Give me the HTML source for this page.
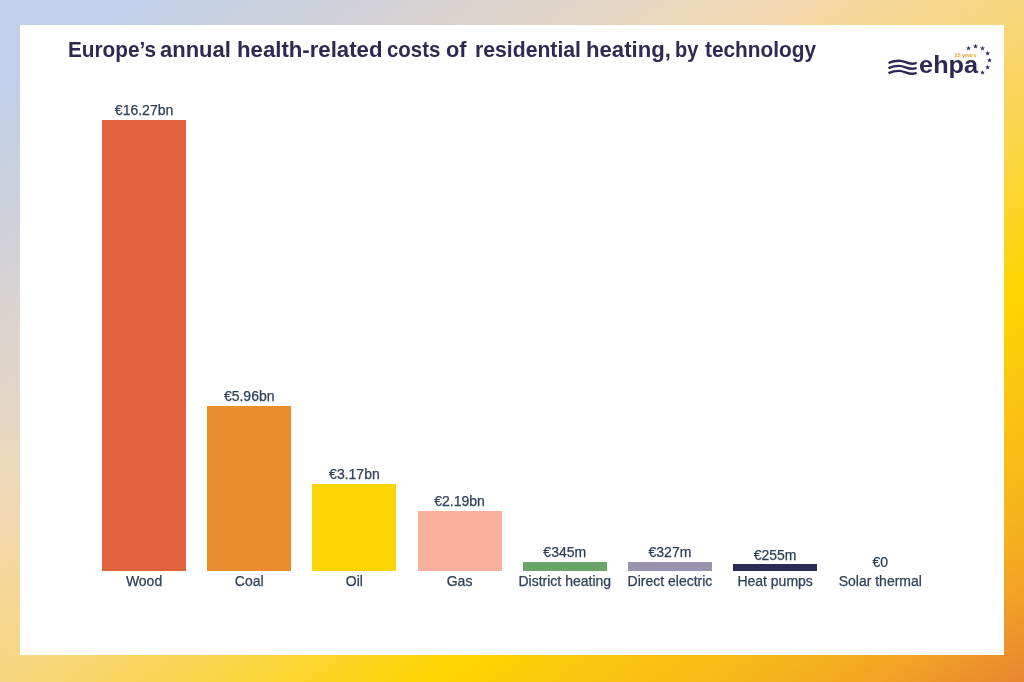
<!DOCTYPE html>
<html lang="en"><head><meta charset="utf-8"><title>Europe’s annual health-related costs of residential heating, by technology</title>
<style>
html,body{margin:0;padding:0}
body{width:1024px;height:682px;overflow:hidden;position:relative;font-family:"Liberation Sans",sans-serif;
background:linear-gradient(to bottom right,#bfcfe9 0%,#bfcfe9 7%,#cbd0dd 14%,#ddd4cc 26%,#f1d8b4 37.5%,#f4d794 44%,#f8d67f 50%,#f9d547 60%,#fed500 71%,#fac50f 78%,#f6b61b 86.6%,#f1a325 93%,#e98431 100%);}
.panel{position:absolute;left:20.3px;top:25.3px;width:983.4px;height:630.2px;background:#fff}
h1{position:absolute;left:0;top:37.9px;margin:0;width:1024px;height:24px;font-size:21.8px;line-height:24px;font-weight:bold;color:#2d2b52;white-space:nowrap}
h1 span{position:absolute;top:0;display:block;transform-origin:0 0}
.bar{position:absolute}
.val,.cat{position:absolute;width:120px;text-align:center;font-size:14px;line-height:16px;color:#2f4058;-webkit-text-stroke:0.25px #2f4058;white-space:nowrap}
svg{position:absolute;left:0;top:0}
</style></head><body>
<div class="panel"></div>
<h1><span style="left:68.05px;transform:scaleX(0.9528)">Europe’s</span> <span style="left:160.49px;transform:scaleX(1.0074)">annual</span> <span style="left:236.96px;transform:scaleX(1.0180)">health-related</span> <span style="left:387.06px;transform:scaleX(0.9364)">costs</span> <span style="left:446.00px;transform:scaleX(1.0000)">of</span> <span style="left:474.53px;transform:scaleX(0.9720)">residential</span> <span style="left:585.97px;transform:scaleX(1.0156)">heating,</span> <span style="left:675.33px;transform:scaleX(0.9167)">by</span> <span style="left:705.00px;transform:scaleX(0.9552)">technology</span></h1>
<div class="bar" style="left:102.00px;top:120.01px;width:84.10px;height:451.49px;background:#e2623d"></div>
<div class="val" style="left:84.05px;top:102px">€16.27bn</div>
<div class="cat" style="left:84.05px;top:573px">Wood</div>
<div class="bar" style="left:207.18px;top:406.11px;width:84.10px;height:165.39px;background:#e88c2e"></div>
<div class="val" style="left:189.23px;top:388px">€5.96bn</div>
<div class="cat" style="left:189.23px;top:573px">Coal</div>
<div class="bar" style="left:312.36px;top:483.53px;width:84.10px;height:87.97px;background:#fdd506"></div>
<div class="val" style="left:294.41px;top:466px">€3.17bn</div>
<div class="cat" style="left:294.41px;top:573px">Oil</div>
<div class="bar" style="left:417.54px;top:510.73px;width:84.10px;height:60.77px;background:#f8b09a"></div>
<div class="val" style="left:399.59px;top:493px">€2.19bn</div>
<div class="cat" style="left:399.59px;top:573px">Gas</div>
<div class="bar" style="left:522.72px;top:561.93px;width:84.10px;height:9.57px;background:#6aa66a"></div>
<div class="val" style="left:504.77px;top:544px">€345m</div>
<div class="cat" style="left:504.77px;top:573px">District heating</div>
<div class="bar" style="left:627.90px;top:562.43px;width:84.10px;height:9.07px;background:#9a94b0"></div>
<div class="val" style="left:609.95px;top:544px">€327m</div>
<div class="cat" style="left:609.95px;top:573px">Direct electric</div>
<div class="bar" style="left:733.08px;top:564.42px;width:84.10px;height:7.08px;background:#2c2a55"></div>
<div class="val" style="left:715.13px;top:547px">€255m</div>
<div class="cat" style="left:715.13px;top:573px">Heat pumps</div>
<div class="val" style="left:820.31px;top:554px">€0</div>
<div class="cat" style="left:820.31px;top:573px">Solar thermal</div>
<svg width="1024" height="682" viewBox="0 0 1024 682">
<g fill="none" stroke="#2c2a55" stroke-width="2.4">
<path d="M888.5,63.00 C892,61.40 895.5,60.80 899.2,60.80 C904,60.80 907,63.70 911.9,63.70 C913.5,63.70 915,63.30 916.6,62.80"/>
<path d="M888.5,68.05 C892,66.45 895.5,65.85 899.2,65.85 C904,65.85 907,68.75 911.9,68.75 C913.5,68.75 915,68.35 916.6,67.85"/>
<path d="M888.5,73.10 C892,71.50 895.5,70.90 899.2,70.90 C904,70.90 907,73.80 911.9,73.80 C913.5,73.80 915,73.40 916.6,72.90"/>
</g>
<text x="919.1" y="72.8" font-family="Liberation Sans, sans-serif" font-weight="bold" font-size="24.8" fill="#2c2a55" textLength="59" lengthAdjust="spacingAndGlyphs">ehpa</text>
<text x="954.4" y="56.8" font-family="Liberation Sans, sans-serif" font-weight="bold" font-size="5.4" fill="#e8a33d" textLength="21.9" lengthAdjust="spacingAndGlyphs">25 years</text>
<g fill="#2c2a55">
<polygon points="968.50,45.68 969.14,47.39 970.97,47.47 969.54,48.61 970.03,50.38 968.50,49.37 966.97,50.38 967.46,48.61 966.03,47.47 967.86,47.39"/>
<polygon points="975.50,43.80 976.14,45.52 977.97,45.60 976.54,46.74 977.03,48.50 975.50,47.49 973.97,48.50 974.46,46.74 973.03,45.60 974.86,45.52"/>
<polygon points="982.50,45.68 983.14,47.39 984.97,47.47 983.54,48.61 984.03,50.38 982.50,49.37 980.97,50.38 981.46,48.61 980.03,47.47 981.86,47.39"/>
<polygon points="987.62,50.80 988.27,52.52 990.10,52.60 988.66,53.74 989.15,55.50 987.62,54.49 986.10,55.50 986.59,53.74 985.15,52.60 986.98,52.52"/>
<polygon points="989.50,57.80 990.14,59.52 991.97,59.60 990.54,60.74 991.03,62.50 989.50,61.49 987.97,62.50 988.46,60.74 987.03,59.60 988.86,59.52"/>
<polygon points="987.62,64.80 988.27,66.52 990.10,66.60 988.66,67.74 989.15,69.50 987.62,68.49 986.10,69.50 986.59,67.74 985.15,66.60 986.98,66.52"/>
<polygon points="982.50,69.92 983.14,71.64 984.97,71.72 983.54,72.86 984.03,74.63 982.50,73.62 980.97,74.63 981.46,72.86 980.03,71.72 981.86,71.64"/>
</g>
</svg>
</body></html>
